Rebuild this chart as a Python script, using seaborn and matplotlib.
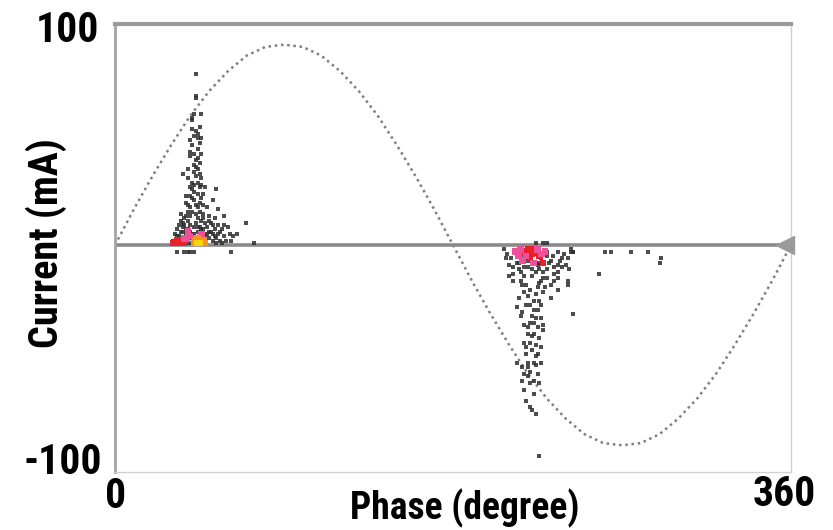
import matplotlib
matplotlib.use("Agg")
import matplotlib.pyplot as plt
import pandas as pd
import seaborn as sns
from matplotlib import font_manager

sns.set_theme(style="white")
_names = {f.name for f in font_manager.fontManager.ttflist}
_pref = ["Roboto Condensed", "Liberation Sans Narrow", "Open Sans Condensed", "DejaVu Sans Condensed",
         "Liberation Sans", "DejaVu Sans"]
FAM = [f for f in _pref if f in _names]
plt.rcParams["font.family"] = FAM
NARROW = FAM[0] in ("Roboto Condensed", "Liberation Sans Narrow", "Open Sans Condensed", "DejaVu Sans Condensed")

# ---------------- data ----------------
sine_phase = [0, 10, 20, 30, 40, 50, 60, 70, 80, 90, 100, 110, 120, 130, 140, 150, 160, 170, 180,
              190, 200, 210, 220, 230, 240, 250, 260, 270, 280, 290, 300, 310, 320, 330, 340, 350, 360]
sine_current = [0, 16, 31, 45, 58, 69, 78, 85, 89, 90, 89, 85, 78, 69, 58, 45, 31, 16, 0,
                -16, -31, -45, -58, -69, -78, -85, -89, -90, -89, -85, -78, -69, -58, -45, -31, -16, 0]

# positive half-cycle discharges (single counts)
pos_phase = [43, 43, 43, 42, 41, 41, 46,
             43, 44, 44, 40, 45, 41, 44, 42, 46, 40,
             40, 43, 46, 42, 45,
             36, 43, 44, 40, 45, 41, 54,
             38, 42, 45, 52, 40, 44, 49, 55,
             35, 40, 44, 50, 58, 36, 43, 48, 52, 70, 60,
             31, 33, 34, 35, 36, 37, 38, 38, 39, 40, 41, 41, 42, 43, 44, 45, 46, 47, 48, 49, 50,
             51, 52, 53, 55, 56, 57, 61, 63, 65, 62, 74, 37, 39, 46, 33, 55,
             39, 42, 46, 38, 47, 41, 44, 39, 47, 42, 37, 49, 45, 40, 34, 36, 51, 53, 58, 59, 43,
             41, 46, 48,
             32, 34, 36, 38, 40, 42, 44, 46, 48, 50, 52, 54, 56, 58, 35, 38, 41, 45, 47, 50, 53,
             39, 43, 47, 40, 44, 42, 46, 39, 43, 45, 42, 44, 41, 45, 33, 39, 47, 54, 57,
             33, 37, 39, 40, 42, 62]
pos_current = [77, 67, 66, 59, 57, 56, 59,
               51, 50, 48, 47, 46, 45, 43, 49, 48, 42,
               40, 38, 41, 36, 37,
               32, 31, 28, 26, 26, 25, 25,
               22, 20, 19, 20, 17, 17, 17, 16,
               14, 13, 12, 13, 13, 10, 10, 10, 9, 10, 8,
               2, 4, 1, 6, 3, 1, 5, 2, 7, 3, 1, 5, 8, 3, 6, 2, 4, 7, 1, 5, 3,
               6, 2, 4, 5, 2, 7, 5, 4, 5, 2, 1, 9, 11, 11, 7, 9,
               30, 33, 30, 19, 23, 28, 34, 15, 14, 24, 12, 8, 8, 9, 9, 6, 10, 7, 4, 2, 14,
               21, 21, 26,
               5, 4, 8, 7, 6, 5, 8, 7, 4, 6, 5, 3, 6, 9, 11, 13, 15, 15, 12, 11, 12,
               18, 18, 18, 22, 23, 27, 27, 34, 35, 32, 41, 39, 52, 53, 1, 1, 4, 1, 1,
               -3, -3, -3, -3, -3, -3]

# negative half-cycle discharges (single counts)
neg_phase = [224, 228, 230,
             207, 209, 211, 213, 214, 216, 218, 219, 220, 222, 224, 225, 227, 228, 230, 231, 233,
             234, 236, 237, 239, 241, 243, 244, 236, 226, 215, 212, 238,
             243, 244, 261, 264, 275, 284, 291, 290, 258, 244,
             210, 212, 216, 219, 227, 230, 234, 236, 241,
             218, 221, 225, 228, 236, 241,
             215, 223, 226, 232,
             214, 221, 225, 227,
             216, 222, 227, 218, 223, 228,
             221, 225, 228, 220, 223,
             218, 221, 224, 227, 222, 219, 225,
             214, 220, 223, 227, 217, 220, 224,
             218, 220, 217, 221, 223, 226,
             218, 221, 222, 224, 226,
             208, 210, 212, 214, 216, 218, 220, 222, 224, 226, 228, 230, 232, 234, 236, 238, 240,
             242, 217, 220, 224, 226, 229, 232, 219, 223, 217, 224, 220, 226, 222, 219, 224, 221,
             225, 223, 219, 215, 230]
neg_current = [1, 1, 1,
               -2, -4, -6, -3, -8, -5, -10, -3, -7, -11, -4, -9, -6, -12, -3, -8, -5,
               -10, -3, -7, -4, -6, -2, -3, -12, -11, -11, -10, -10,
               -3, -3, -3, -3, -3, -3, -6, -8, -13, -31,
               -14, -16, -16, -18, -16, -15, -16, -15, -16,
               -21, -20, -19, -21, -20, -18,
               -24, -25, -25, -24,
               -28, -27, -29, -27,
               -32, -32, -33, -36, -35, -36,
               -35, -37, -38, -40, -40,
               -44, -44, -45, -46, -47, -49, -49,
               -53, -53, -53, -53, -55, -55, -54,
               -58, -59, -61, -62, -61, -62,
               -65, -73, -74, -76, -95,
               -6, -9, -13, -5, -12, -14, -10, -14, -12, -8, -15, -11, -7, -13, -9, -6, -9,
               -11, -18, -23, -22, -17, -19, -18, -27, -29, -30, -33, -37, -42, -41, -46, -50, -57,
               -58, -67, -70, -8, -5]

# high-count (coloured) cells: count level 2..5
hot_phase = [32, 33, 34, 35, 36, 37, 35, 31,
             38, 40, 37, 39, 46, 42,
             42, 43, 46, 47, 48, 44,
             44, 45,
             218, 220, 222, 221, 224, 226, 228, 220, 223,
             213, 215, 217, 219, 223, 225, 227, 216, 229]
hot_current = [1, 2, 1, 2, 1, 2, 1, 1,
               3, 4, 3, 6, 5, 3,
               1, 2, 1, 2, 1, 3,
               1, 1,
               -3, -2, -4, -6, -3, -5, -8, -4, -2,
               -3, -5, -7, -5, -8, -2, -4, -2, -3]
hot_count = [2, 2, 2, 2, 2, 2, 2, 2,
             3, 3, 3, 3, 3, 3,
             4, 4, 4, 4, 4, 4,
             5, 5,
             2, 2, 2, 2, 2, 2, 2, 2, 2,
             3, 3, 3, 3, 3, 3, 3, 3, 3]

x_tick_labels = ["0", "360"]
y_tick_labels = ["-100", "100"]
x_label = "Phase (degree)"
y_label = "Current (mA)"

# ---------------- tables ----------------
sine_df = pd.DataFrame({"phase": sine_phase, "current": sine_current})
single_df = pd.DataFrame({"phase": pos_phase + neg_phase,
                          "current": pos_current + neg_current})
hot_df = pd.DataFrame({"phase": hot_phase, "current": hot_current, "count": hot_count})

count_palette = {2: "#e8202a", 3: "#f0509a", 4: "#f7931e", 5: "#ffd400"}

# ---------------- figure ----------------
W, H = 833, 530
fig = plt.figure(figsize=(W / 100, H / 100), dpi=100)
fig.patch.set_facecolor("white")
ax = fig.add_axes([115 / W, 1 - 472 / H, (791 - 115) / W, (472 - 24) / H])
ax.set_facecolor("white")

sns.lineplot(data=sine_df, x="phase", y="current", ax=ax, color="#7f7f7f",
             linewidth=1.8, linestyle=(0, (1, 1.5)), sort=False)
ax.axhline(0, color="#8a8a8a", linewidth=2.6, zorder=2)
ax.plot([357], [0], marker="<", markersize=13, color="#9a9a9a", clip_on=False, zorder=3)

sns.scatterplot(data=single_df, x="phase", y="current", ax=ax, color="#2e2e2e",
                marker="s", s=7, linewidth=0, alpha=0.85, zorder=4)
sns.scatterplot(data=hot_df, x="phase", y="current", hue="count", palette=count_palette,
                ax=ax, marker="s", s=22, linewidth=0, legend=False, zorder=5)

ax.set_xlim(0, 360)
ax.set_ylim(-102.0, 99.3)
ax.set_xticks([])
ax.set_yticks([])
ax.set_xlabel("")
ax.set_ylabel("")

for side, lw, col in [("top", 3.0, "#9a9a9a"), ("left", 2.0, "#a4a4a4"),
                      ("right", 1.0, "#d0d0d0"), ("bottom", 1.0, "#d0d0d0")]:
    ax.spines[side].set_visible(True)
    ax.spines[side].set_linewidth(lw)
    ax.spines[side].set_color(col)

num_size = 30 if NARROW else 27
xl_size = 27 if NARROW else 24
yl_size = 29 if NARROW else 26

def ftext(px, py, s, size, **kw):
    fig.text(px / W, 1 - py / H, s, fontsize=size, fontweight="bold", color="black",
             ha="center", va="center", **kw)

ftext(67, 30, y_tick_labels[1], num_size)
ftext(63, 463, y_tick_labels[0], num_size)
ftext(116, 496, x_tick_labels[0], num_size)
ftext(784, 494, x_tick_labels[1], num_size)
ftext(465, 508, x_label, xl_size)
ftext(46, 243, y_label, yl_size, rotation=90)

fig.savefig("out.png", dpi=100, facecolor="white")
